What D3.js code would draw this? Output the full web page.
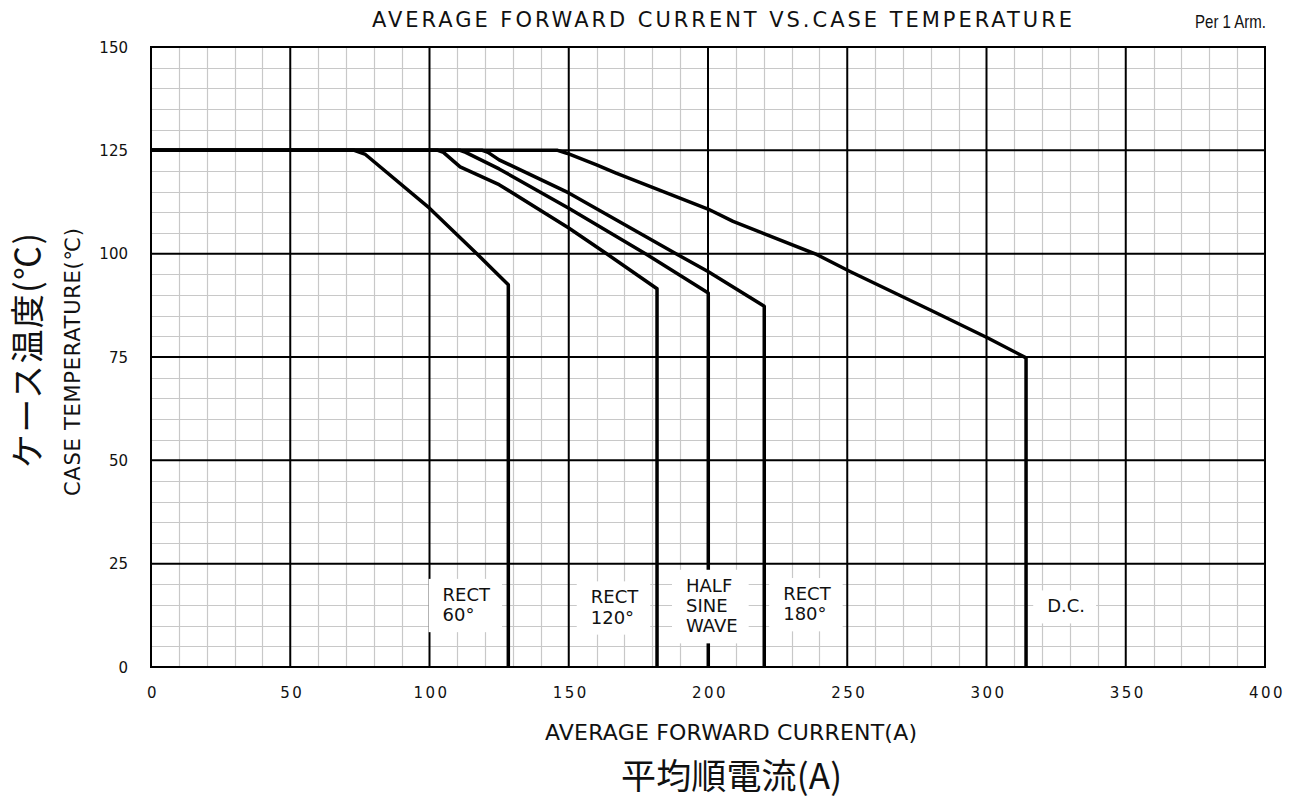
<!DOCTYPE html>
<html>
<head>
<meta charset="utf-8">
<script src="https://cdn.jsdelivr.net/npm/d3@7"></script>
<style>
  body { margin: 0; background: #fff; }
  text { fill: #111; }
</style>
</head>
<body>
<script>
// curve data: current (A) vs case temperature (deg C)
var rect60 = [[0,125],[73,125],[77,124],[100,111],[117,100],[123,96],[128.3,92.5],[128.3,0]];
var rect120 = [[0,125],[103,125],[105,124.5],[111,121],[125,116.7],[150,106.2],[164,99.8],[181.7,91.5],[181.7,0]];
var halfSine = [[0,125],[111,125],[113,124.5],[125,120.5],[150,111],[178,99.8],[200.1,90.5],[200.1,0]];
var rect180 = [[0,125],[119,125],[121,124.5],[125,122.7],[150,114.7],[189,99.8],[200,95.7],[220.2,87.3],[220.2,0]];
var dc = [[0,125],[146,125],[149.3,124.3],[160,121.5],[167,119.5],[200,110.8],[209,107.8],[239,99.8],[251,95.7],[280,86.3],[300.5,79.6],[314.2,74.8],[314.2,0]];
var curves = [rect60, rect120, halfSine, rect180, dc];

var xTicks = [0, 50, 100, 150, 200, 250, 300, 350, 400];
var yTicks = [0, 25, 50, 75, 100, 125, 150];

// labels: lines of text, left edge (A) and first baseline (deg C)
var labelText = [["RECT", "60°"], ["RECT", "120°"], ["HALF", "SINE", "WAVE"], ["RECT", "180°"], ["D.C."]];
var labelAt = [[104.7, 16.0], [157.9, 15.4], [192.1, 18.2], [227.0, 16.2], [321.8, 13.2]];

const W = 1301, H = 799;
const margin = {top: 47, right: 36, bottom: 132, left: 151};
const width = W - margin.left - margin.right;
const height = H - margin.top - margin.bottom;
const latin = "'DejaVu Sans', Verdana, sans-serif";
const cjk = "'Noto Sans CJK JP', 'DejaVu Sans', sans-serif";

const svg = d3.select("body").append("svg")
    .attr("width", W)
    .attr("height", H);

const g = svg.append("g")
    .attr("transform", "translate(" + margin.left + "," + margin.top + ")");

var xScale = d3.scaleLinear().domain([0, 400]).range([0, width]);
var yScale = d3.scaleLinear().domain([0, 150]).range([height, 0]);

// minor grid
g.append("g").selectAll("line")
    .data(d3.range(0, 401, 10).filter(d => d % 50 != 0))
    .enter().append("line")
    .attr("x1", d => Math.round(xScale(d)) + 0.5).attr("x2", d => Math.round(xScale(d)) + 0.5)
    .attr("y1", 0).attr("y2", height)
    .attr("stroke", "#c8c8c8").attr("stroke-width", 1.2);
g.append("g").selectAll("line")
    .data(d3.range(0, 151, 5).filter(d => d % 25 != 0))
    .enter().append("line")
    .attr("y1", d => Math.round(yScale(d)) + 0.5).attr("y2", d => Math.round(yScale(d)) + 0.5)
    .attr("x1", 0).attr("x2", width)
    .attr("stroke", "#c8c8c8").attr("stroke-width", 1.2);

// major grid
g.append("g").selectAll("line")
    .data(xTicks)
    .enter().append("line")
    .attr("x1", d => xScale(d)).attr("x2", d => xScale(d))
    .attr("y1", 0).attr("y2", height)
    .attr("stroke", "#000").attr("stroke-width", 2);
g.append("g").selectAll("line")
    .data(yTicks)
    .enter().append("line")
    .attr("y1", d => yScale(d)).attr("y2", d => yScale(d))
    .attr("x1", 0).attr("x2", width)
    .attr("stroke", "#000").attr("stroke-width", 2);

// curves
var lineFunction = d3.line()
    .x(d => xScale(d[0]))
    .y(d => yScale(d[1]));

g.append("g").selectAll("path")
    .data(curves)
    .enter().append("path")
    .attr("d", lineFunction)
    .attr("fill", "none")
    .attr("stroke", "#000")
    .attr("stroke-width", 3.5)
    .attr("stroke-linejoin", "round");

// curve labels with white boxes
var labels = g.append("g").selectAll("g")
    .data(labelText)
    .enter().append("g")
    .attr("transform", (d, i) => "translate(" + xScale(labelAt[i][0]) + "," + yScale(labelAt[i][1]) + ")");

labels.each(function (lines) {
    var lab = d3.select(this);
    var rect = lab.append("rect").attr("fill", "#fff");
    var t = lab.append("text")
        .style("font-family", latin)
        .style("font-size", "18px");
    lines.forEach(function (s, k) {
        t.append("tspan").attr("x", 0).attr("y", k * 20.3).text(s);
    });
    var bb = t.node().getBBox();
    rect.attr("x", bb.x - 14).attr("y", bb.y - 5)
        .attr("width", bb.width + 25).attr("height", bb.height + 12);
});

// frame
g.append("rect")
    .attr("width", width).attr("height", height)
    .attr("fill", "none").attr("stroke", "#000").attr("stroke-width", 2);

// tick labels
g.append("g").selectAll("text")
    .data(xTicks)
    .enter().append("text")
    .attr("x", d => xScale(d) + 2)
    .attr("y", height + 31)
    .attr("text-anchor", "middle")
    .style("font-family", latin)
    .style("font-size", "15px")
    .style("letter-spacing", "2.5px")
    .text(d => d);

g.append("g").selectAll("text")
    .data(yTicks)
    .enter().append("text")
    .attr("x", -23)
    .attr("y", d => yScale(d) + 5.5)
    .attr("text-anchor", "end")
    .style("font-family", latin)
    .style("font-size", "15px")
    .text(d => d);

// titles
svg.append("text")
    .attr("x", 372).attr("y", 27)
    .attr("textLength", 700)
    .attr("lengthAdjust", "spacing")
    .style("font-family", latin)
    .style("font-size", "21px")
    .text("AVERAGE FORWARD CURRENT VS.CASE TEMPERATURE");

svg.append("text")
    .attr("x", 1195).attr("y", 28)
    .attr("textLength", 71)
    .attr("lengthAdjust", "spacingAndGlyphs")
    .style("font-family", "'Liberation Sans', Arial, sans-serif")
    .style("font-size", "19px")
    .text("Per 1 Arm.");

svg.append("text")
    .attr("x", 545).attr("y", 740)
    .attr("textLength", 372)
    .attr("lengthAdjust", "spacing")
    .style("font-family", latin)
    .style("font-size", "22px")
    .text("AVERAGE FORWARD CURRENT(A)");

svg.append("text")
    .attr("x", 621).attr("y", 789)
    .attr("textLength", 221)
    .attr("lengthAdjust", "spacing")
    .style("font-family", cjk)
    .style("font-size", "35px")
    .text("平均順電流(A)");

svg.append("text")
    .attr("transform", "translate(40,468) rotate(-90)")
    .attr("textLength", 235)
    .attr("lengthAdjust", "spacing")
    .style("font-family", cjk)
    .style("font-size", "34px")
    .text("ケース温度(℃)");

svg.append("text")
    .attr("transform", "translate(80,496) rotate(-90)")
    .attr("textLength", 268)
    .attr("lengthAdjust", "spacing")
    .style("font-family", latin)
    .style("font-size", "21px")
    .text("CASE TEMPERATURE(℃)");
</script>
</body>
</html>
